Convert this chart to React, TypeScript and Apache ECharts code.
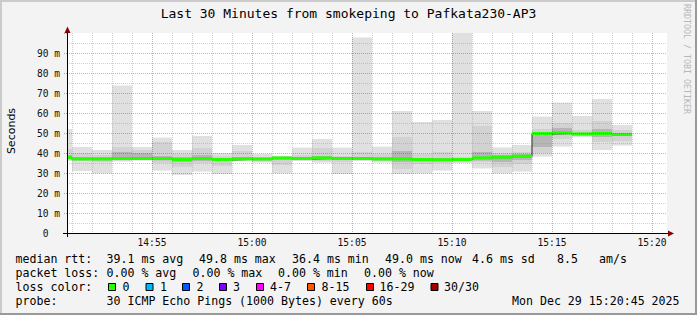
import { useEffect, useRef } from 'react';
import * as echarts from 'echarts';

const MONO = "'DejaVu Sans Mono', monospace";
const SANS = "'DejaVu Sans', sans-serif";

// one smoke column per minute (minutes after 14:00)
const minuteStart = [50.75, 51, 52, 53, 54, 55, 56, 57, 58, 59, 60, 61, 62, 63, 64, 65, 66, 67, 68, 69, 70, 71, 72, 73, 74, 75, 76, 77, 78];
const minuteEnd = [51, 52, 53, 54, 55, 56, 57, 58, 59, 60, 61, 62, 63, 64, 65, 66, 67, 68, 69, 70, 71, 72, 73, 74, 75, 76, 77, 78, 79];
const rttMin = [36, 31, 29.8, 35.7, 36.2, 31.2, 29, 30.7, 29.5, 36.2, 35.2, 29.8, 36, 35.2, 29.5, 36, 35.2, 29.5, 29.8, 31.2, 35, 32.2, 29.8, 30.7, 38.2, 43.2, 47.8, 41.5, 43.7];
const rttMax = [52, 43, 41.5, 73.7, 43, 47.7, 41.5, 48.5, 40, 44, 39.5, 38.5, 42.7, 47, 42.7, 97.7, 43.2, 61, 55.5, 56.5, 100, 61, 42.8, 44, 58.2, 65.2, 58.5, 67, 54];
const midLow = [36.5, 36, 35.5, 36.2, 36.5, 35, 33, 35, 33.5, 36.3, 35.8, 34, 36.4, 36, 35.5, 36.5, 36, 32, 34.5, 35, 36, 35.5, 33, 34.5, 40, 47, 48.5, 45.5, 46];
const midHigh = [42, 40, 39, 43, 41.5, 45.5, 39.5, 42.5, 38.5, 41, 38, 38, 39, 42.5, 38.5, 40.5, 39.5, 48, 39.5, 40.5, 38, 53.5, 40, 40.5, 52, 55, 51.5, 56, 51.5];
const coreLow = [37, 36.3, 36.2, 36.5, 36.8, 36.3, 35.5, 36, 36, 36.5, 36.2, 36.5, 36.6, 36.6, 36.5, 36.6, 36.3, 35.5, 35.8, 35.8, 36.2, 36.2, 35.5, 36.5, 43, 49, 48.8, 48, 48.5];
const coreHigh = [39, 38, 37.8, 40.5, 40, 38.5, 38, 39, 37.5, 38, 37.2, 37.8, 37.8, 38.5, 37.5, 38, 37.8, 41, 37.5, 37.5, 37.2, 40.5, 39, 39.5, 50.5, 52.5, 50, 52, 50];
const medianRtt = [37.5, 36.8, 36.8, 37, 37, 37, 36.5, 37, 36.5, 36.8, 36.8, 37.3, 37, 37.3, 37, 37, 36.8, 36.8, 36.5, 36.4, 36.5, 37.3, 37.7, 38.2, 49.5, 49.8, 49.3, 49.5, 49.0];

// time grid (minutes after 14:00) and labelled ticks
const gridMinutes = [51, 52, 53, 54, 55, 56, 57, 58, 59, 60, 61, 62, 63, 64, 65, 66, 67, 68, 69, 70, 71, 72, 73, 74, 75, 76, 77, 78, 79, 80];
const timeTickValues = [55, 60, 65, 70, 75, 80];
const timeTickLabels = ['14:55', '15:00', '15:05', '15:10', '15:15', '15:20'];

// legend texts
const rttStatLabels = ['39.1 ms avg', '49.8 ms max', '36.4 ms min', '49.0 ms now', '4.6 ms sd', '8.5', 'am/s'];
const lossStatLabels = ['0.00 % avg', '0.00 % max', '0.00 % min', '0.00 % now'];
const lossColorLabels = ['0', '1', '2', '3', '4-7', '8-15', '16-29', '30/30'];
const lossColors = ['#26ff00', '#00b8ff', '#0059ff', '#7e00ff', '#ff00ff', '#ff5500', '#ff0000', '#a10000'];
const probeText = '30 ICMP Echo Pings (1000 Bytes) every 60s';
const dateText = 'Mon Dec 29 15:20:45 2025';
const titleText = 'Last 30 Minutes from smokeping to Pafkata230-AP3';

// layout (pixels)
const rttStatX = [106.5, 199, 292, 385, 472, 557, 599];
const lossStatX = [106.5, 192.5, 278, 364];
const lossBoxX = [108.5, 146, 182.5, 219.5, 256.5, 307.5, 366.5, 431];
const lossLabelX = [122.5, 160, 196.5, 233, 270, 321.5, 379.5, 444];

const LEG_FS = 11.6;

function txt(text: string, x: number, y: number, extra: any = {}) {
  return {
    type: 'text',
    x,
    y,
    silent: true,
    style: {
      text,
      fill: '#000',
      fontFamily: MONO,
      fontSize: LEG_FS,
      align: 'left',
      verticalAlign: 'middle',
      textAlign: 'left',
      textVerticalAlign: 'middle',
      ...extra,
    },
  };
}

export default function App() {
  const ref = useRef<HTMLDivElement>(null);

  useEffect(() => {
    if (!ref.current) return;
    const chart = echarts.init(ref.current, undefined, { renderer: 'svg' });

    const smokeData = minuteStart.map((s, i) => [s, minuteEnd[i], rttMin[i], rttMax[i], midLow[i], midHigh[i], coreLow[i], coreHigh[i], medianRtt[i]]);
    const medianLine = minuteStart.map((s, i) => [s, medianRtt[i]]);
    medianLine.push([minuteEnd[minuteEnd.length - 1], medianRtt[medianRtt.length - 1]]);
    const bandData = minuteStart.map((s, i) => [s, minuteEnd[i], medianRtt[i]]);

    const graphics: any[] = [];
    // frame shading
    graphics.push({ type: 'rect', shape: { x: 0, y: 0, width: 697, height: 2 }, style: { fill: '#cbcbcb' }, silent: true });
    graphics.push({ type: 'rect', shape: { x: 0, y: 0, width: 2, height: 315 }, style: { fill: '#cbcbcb' }, silent: true });
    graphics.push({ type: 'rect', shape: { x: 0, y: 313, width: 697, height: 2 }, style: { fill: '#999999' }, silent: true });
    graphics.push({ type: 'rect', shape: { x: 695, y: 0, width: 2, height: 315 }, style: { fill: '#999999' }, silent: true });
    // axis extensions and arrows
    graphics.push({ type: 'line', shape: { x1: 63, y1: 233.5, x2: 67, y2: 233.5 }, style: { stroke: '#000', lineWidth: 1 }, z: 50 });
    graphics.push({ type: 'line', shape: { x1: 667, y1: 233.5, x2: 669, y2: 233.5 }, style: { stroke: '#000', lineWidth: 1 }, z: 50 });
    graphics.push({ type: 'line', shape: { x1: 67.5, y1: 233, x2: 67.5, y2: 237 }, style: { stroke: '#000', lineWidth: 1 }, z: 50 });
    graphics.push({ type: 'line', shape: { x1: 67.5, y1: 33, x2: 67.5, y2: 30 }, style: { stroke: '#000', lineWidth: 1 }, z: 50 });
    graphics.push({ type: 'polygon', shape: { points: [[67.5, 26.5], [64.5, 33], [70.5, 33]] }, style: { fill: '#8b0000' }, z: 50 });
    graphics.push({ type: 'polygon', shape: { points: [[674, 233.5], [668, 230.5], [668, 236.5]] }, style: { fill: '#8b0000' }, z: 50 });
    // y axis title
    graphics.push({
      type: 'text', x: 11.5, y: 131, rotation: Math.PI / 2, silent: true,
      style: { text: 'Seconds', fill: '#000', fontFamily: SANS, fontSize: 11, align: 'center', verticalAlign: 'middle', textAlign: 'center', textVerticalAlign: 'middle' },
    });
    // watermark
    graphics.push({
      type: 'text', x: 687, y: 59, rotation: -Math.PI / 2, silent: true,
      style: { text: 'RRDTOOL / TOBI OETIKER', fill: '#b8b8b8', fontFamily: MONO, fontSize: 8.3, align: 'center', verticalAlign: 'middle', textAlign: 'center', textVerticalAlign: 'middle' },
    });
    // legend rows
    const rowY = [259, 273, 287, 301];
    graphics.push(txt('median rtt:', 15.5, rowY[0]));
    rttStatLabels.forEach((t, i) => graphics.push(txt(t, rttStatX[i], rowY[0])));
    graphics.push(txt('packet loss:', 15.5, rowY[1]));
    lossStatLabels.forEach((t, i) => graphics.push(txt(t, lossStatX[i], rowY[1])));
    graphics.push(txt('loss color:', 15.5, rowY[2]));
    lossColorLabels.forEach((t, i) => {
      graphics.push({ type: 'rect', shape: { x: lossBoxX[i], y: rowY[2] - 3.5, width: 7, height: 7 }, style: { fill: lossColors[i], stroke: '#000', lineWidth: 1 } });
      graphics.push(txt(t, lossLabelX[i], rowY[2]));
    });
    graphics.push(txt('probe:', 15.5, rowY[3]));
    graphics.push(txt(probeText, 106.5, rowY[3]));
    graphics.push(txt(dateText, 512, rowY[3]));

    const option: any = {
      animation: false,
      backgroundColor: '#f3f3f3',
      title: {
        text: titleText,
        left: 'center',
        top: 7,
        padding: 0,
        textStyle: { fontFamily: MONO, fontSize: 13, fontWeight: 'normal', color: '#000' },
      },
      grid: { left: 67, top: 33, width: 600, height: 200, show: true, backgroundColor: '#ffffff', borderWidth: 0 },
      xAxis: {
        type: 'value',
        min: 50.75,
        max: 80.75,
        z: 10,
        axisLine: { show: true, lineStyle: { color: '#000', width: 1 } },
        axisTick: { show: false },
        splitLine: { show: false },
        axisLabel: {
          customValues: timeTickValues,
          margin: 4,
          fontFamily: MONO,
          fontSize: 9.6,
          color: '#111',
          showMinLabel: true,
          showMaxLabel: true,
          formatter: (v: number) => {
            const idx = timeTickValues.indexOf(Math.round(v * 100) / 100);
            return idx >= 0 ? timeTickLabels[idx] : '';
          },
        },
      },
      yAxis: {
        type: 'value',
        min: 0,
        max: 100,
        interval: 10,
        z: 10,
        axisLine: { show: true, lineStyle: { color: '#000', width: 1 } },
        axisTick: { show: true, length: 4, lineStyle: { color: 'rgba(130,30,30,0.4)', type: [1, 1] } },
        axisLabel: {
          margin: 7,
          fontFamily: MONO,
          fontSize: 9.6,
          color: '#111',
          formatter: (v: number) => (v === 0 ? '{z|0}' : v >= 100 ? '' : v + ' m'),
          rich: { z: { fontFamily: MONO, fontSize: 9.6, color: '#111', padding: [0, 11.6, 0, 0] } },
        },
        splitLine: { show: true, showMinLine: false, showMaxLine: false, lineStyle: { color: 'rgba(130,30,30,0.35)', type: [1, 1], width: 1 } },
        minorTick: { show: false, splitNumber: 2 },
        minorSplitLine: { show: true, lineStyle: { color: 'rgba(140,140,140,0.4)', type: [1, 1], width: 1 } },
      },
      graphic: graphics,
      series: [
        {
          type: 'custom',
          name: 'smoke',
          z: 1,
          silent: true,
          data: smokeData,
          encode: { x: [0, 1], y: [2, 3] },
          renderItem: (params: any, api: any) => {
            const s = api.value(0);
            const e = api.value(1);
            const rect = (lo: number, hi: number, fill: string) => {
              const p1 = api.coord([s, hi]);
              const p2 = api.coord([e, lo]);
              return { type: 'rect', shape: { x: p1[0], y: p1[1], width: p2[0] - p1[0], height: p2[1] - p1[1] }, style: { fill } };
            };
            return {
              type: 'group',
              children: [
                rect(api.value(2), api.value(3), '#e0e0e0'),
                rect(api.value(4), api.value(5), '#d2d2d2'),
                rect(api.value(6), api.value(7), '#b6b6b6'),
              ],
            };
          },
        },
        {
          type: 'line',
          name: 'median',
          z: 2,
          step: 'end',
          symbol: 'none',
          silent: true,
          data: medianLine,
          lineStyle: { color: '#202020', width: 1 },
        },
        {
          type: 'custom',
          name: 'median loss color',
          z: 3,
          silent: true,
          data: bandData,
          encode: { x: [0, 1], y: 2 },
          renderItem: (params: any, api: any) => {
            const p1 = api.coord([api.value(0), api.value(2)]);
            const p2 = api.coord([api.value(1), api.value(2)]);
            return { type: 'rect', shape: { x: p1[0], y: p1[1] - 2, width: p2[0] - p1[0], height: 3 }, style: { fill: lossColors[0] } };
          },
        },
        {
          type: 'custom',
          name: 'time grid',
          z: 4,
          silent: true,
          data: gridMinutes.map((m) => [m]),
          encode: { x: 0 },
          renderItem: (params: any, api: any) => {
            const m = api.value(0);
            const top = api.coord([m, 100]);
            const bot = api.coord([m, 0]);
            const x = Math.round(top[0]) + 0.5;
            const major = m % 5 === 0;
            return {
              type: 'line',
              shape: { x1: x, y1: top[1], x2: x, y2: bot[1] },
              style: { stroke: major ? 'rgba(130,30,30,0.35)' : 'rgba(140,140,140,0.4)', lineWidth: 1, lineDash: [1, 1] },
            };
          },
        },
      ],
    };

    chart.setOption(option);
    return () => chart.dispose();
  }, []);

  return (
    <div
      ref={ref}
      style={{ position: 'absolute', left: 0, top: 0, width: 697, height: 315 }}
    />
  );
}
